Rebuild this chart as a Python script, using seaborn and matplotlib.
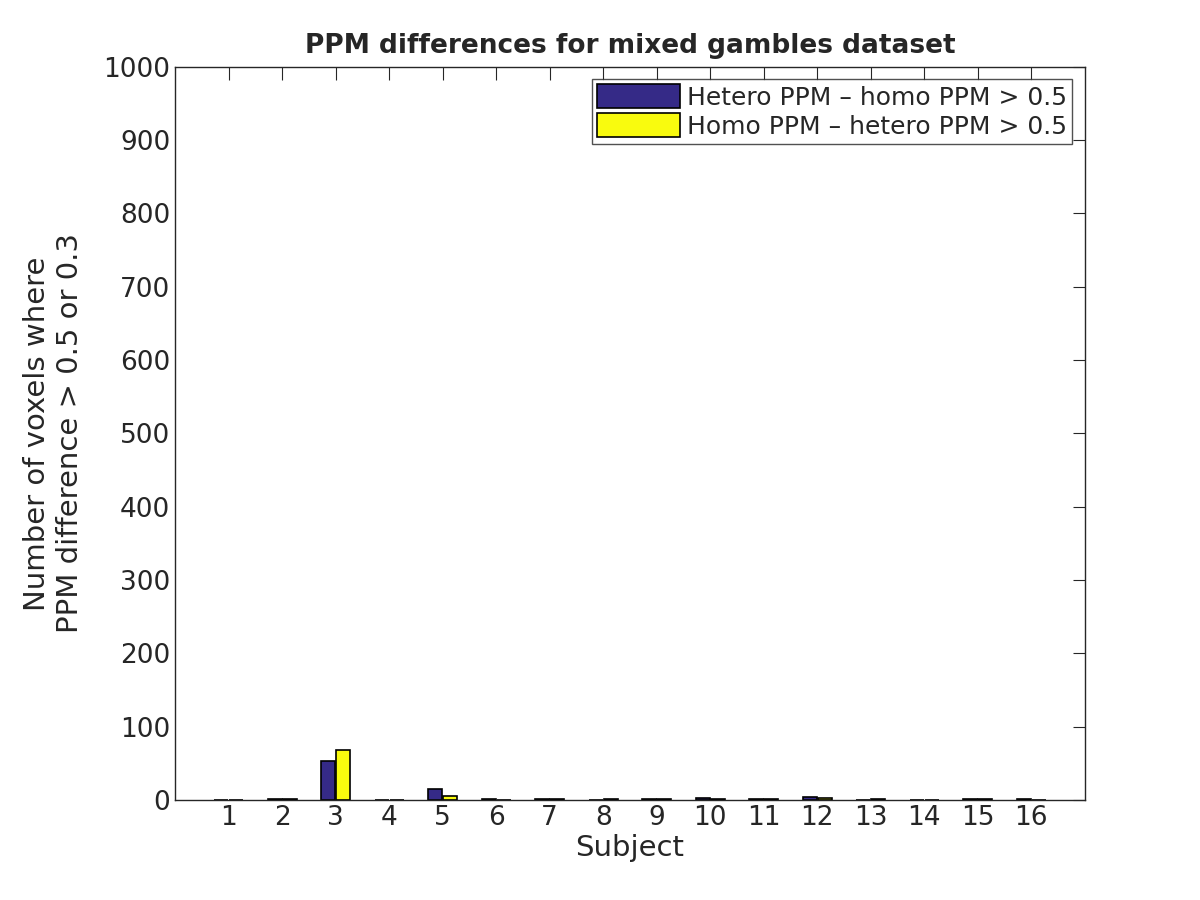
import numpy as np
import pandas as pd
import matplotlib
matplotlib.use('Agg')
import matplotlib.pyplot as plt
import seaborn as sns

subjects = list(range(1, 17))
hetero_gt_homo = [0, 2, 53, 0, 15, 1, 1, 0, 1, 3, 1, 4, 0, 0, 2, 1]
homo_gt_hetero = [0, 2, 68, 0, 5, 0, 1, 1, 1, 1, 1, 3, 1, 0, 1, 0]
series_names = ['Hetero PPM – homo PPM > 0.5', 'Homo PPM – hetero PPM > 0.5']

sns.set_style('white')
plt.rcParams['font.family'] = ['DejaVu Sans']
plt.rcParams['font.size'] = 18

df = pd.DataFrame({
    'Subject': [str(s) for s in subjects] * 2,
    'Count': hetero_gt_homo + homo_gt_hetero,
    'Series': [series_names[0]] * 16 + [series_names[1]] * 16,
})

fig = plt.figure(figsize=(12, 9), dpi=100)
ax = fig.add_axes([0.146, 0.111, 0.758, 0.815])
sns.barplot(data=df, x='Subject', y='Count', hue='Series',
            palette=['#352A87', '#F9FB0E'], saturation=1, width=0.56, gap=0.05,
            edgecolor='black', linewidth=1.2, ax=ax, legend=True)

ax.set_xlim(-1, 16)
ax.set_ylim(0, 1000)
ax.set_yticks(np.arange(0, 1001, 100))
ax.tick_params(direction='in', top=True, right=True, length=9, labelsize=19,
               color='#262626', labelcolor='#262626')
for s in ax.spines.values():
    s.set_color('#262626')
    s.set_linewidth(1.0)
ax.set_xlabel('Subject', fontsize=21, color='#262626', labelpad=2)
ax.set_ylabel('Number of voxels where\nPPM difference > 0.5 or 0.3', fontsize=21,
              color='#262626', labelpad=14)
ax.set_title('PPM differences for mixed gambles dataset', fontsize=19,
             fontweight='bold', pad=10)

leg = ax.legend(loc='upper right', fontsize=18, frameon=True, fancybox=False,
                edgecolor='#262626', handlelength=3.3, handleheight=1.1,
                borderaxespad=0.5, borderpad=0.2, handletextpad=0.3, labelspacing=0.15)
leg.get_frame().set_linewidth(1.0)

fig.savefig('out.png', dpi=100)
